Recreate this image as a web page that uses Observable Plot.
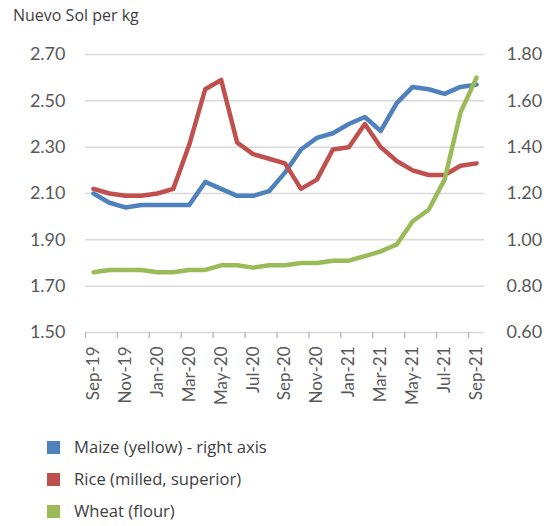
<!DOCTYPE html>
<html>
<head>
<meta charset="utf-8">
<script src="https://cdn.jsdelivr.net/npm/d3@7"></script>
<script src="https://cdn.jsdelivr.net/npm/@observablehq/plot@0.6"></script>
<style>
  html, body { margin: 0; padding: 0; background: #fff; }
  body { width: 552px; height: 526px; overflow: hidden; font-family: "Open Sans", Lato, sans-serif; }
  #title { height: 30px; box-sizing: border-box; padding: 6px 0 0 13px; font-size: 16px; line-height: 19px; color: #404040; }
  #chart svg { display: block; }
  #legend { padding-left: 47px; margin-top: 1px; }
  .row { height: 32px; line-height: 32px; font-size: 16.6px; color: #404040; display: flex; align-items: center; }
  .sw { width: 13px; height: 13px; margin-right: 14px; flex: none; }
</style>
</head>
<body>
<div id="title">Nuevo Sol per kg</div>
<div id="chart"></div>
<div id="legend"></div>
<script>
const months = ["Sep-19","Oct-19","Nov-19","Dec-19","Jan-20","Feb-20","Mar-20","Apr-20","May-20","Jun-20","Jul-20","Aug-20","Sep-20","Oct-20","Nov-20","Dec-20","Jan-21","Feb-21","Mar-21","Apr-21","May-21","Jun-21","Jul-21","Aug-21","Sep-21"];
// Maize (yellow) - right axis
const maize = [1.20,1.16,1.14,1.15,1.15,1.15,1.15,1.25,1.22,1.19,1.19,1.21,1.29,1.39,1.44,1.46,1.50,1.53,1.47,1.59,1.66,1.65,1.63,1.66,1.67];
// Rice (milled, superior) - left axis
const rice = [2.12,2.10,2.09,2.09,2.10,2.12,2.31,2.55,2.59,2.32,2.27,2.25,2.23,2.12,2.16,2.29,2.30,2.40,2.30,2.24,2.20,2.18,2.18,2.22,2.23];
// Wheat (flour) - left axis
const wheat = [1.76,1.77,1.77,1.77,1.76,1.76,1.77,1.77,1.79,1.79,1.78,1.79,1.79,1.80,1.80,1.81,1.81,1.83,1.85,1.88,1.98,2.03,2.16,2.45,2.60];

const leftTicks = [1.50,1.70,1.90,2.10,2.30,2.50,2.70];
const rightTicks = [0.60,0.80,1.00,1.20,1.40,1.60,1.80];
const seriesNames = ["Maize (yellow) - right axis","Rice (milled, superior)","Wheat (flour)"];
const colors = ["#4F81BD","#C0504D","#9BBB59"];

const leftDomain = [leftTicks[0], leftTicks[leftTicks.length-1]];
const offset = leftTicks[0] - rightTicks[0];

const data = months.map((m, i) => ({i, m, maize: maize[i], rice: rice[i], wheat: wheat[i]}));
const edgeTicks = months.map((m, i) => i - 0.5).filter((v, k) => k % 2 === 0);
const labelTicks = months.map((m, i) => i).filter(i => i % 2 === 0);

const chart = Plot.plot({
  width: 552,
  height: 400,
  marginLeft: 85,
  marginRight: 68,
  marginTop: 24,
  marginBottom: 98,
  style: {fontFamily: "Lato, 'Open Sans', sans-serif", fontSize: "18px", color: "#595959", background: "#fff"},
  x: {type: "linear", domain: [-0.5, months.length - 0.5]},
  y: {domain: leftDomain},
  marks: [
    Plot.ruleY(leftTicks, {stroke: "#d9d9d9", strokeWidth: 1.5}),
    Plot.axisY({anchor: "left", ticks: leftTicks, tickFormat: d => d.toFixed(2), tickSize: 0, tickPadding: 20, label: null, fill: "#595959"}),
    Plot.axisY({anchor: "right", ticks: leftTicks, tickFormat: (d, k) => rightTicks[k].toFixed(2), tickSize: 0, tickPadding: 22, label: null, fill: "#595959"}),
    Plot.axisX({ticks: edgeTicks, tickFormat: () => "", tickSize: 6, stroke: "#bfbfbf", strokeWidth: 1.5, label: null}),
    Plot.axisX({ticks: labelTicks, tickFormat: i => months[i], tickSize: 0, tickPadding: 14, tickRotate: -90, label: null, fontSize: 17, fill: "#595959"}),
    Plot.line(data, {x: "i", y: d => d.maize + offset, stroke: colors[0], strokeWidth: 4.5, strokeLinejoin: "round", strokeLinecap: "round"}),
    Plot.line(data, {x: "i", y: "rice", stroke: colors[1], strokeWidth: 4.5, strokeLinejoin: "round", strokeLinecap: "round"}),
    Plot.line(data, {x: "i", y: "wheat", stroke: colors[2], strokeWidth: 4.5, strokeLinejoin: "round", strokeLinecap: "round"})
  ]
});
document.getElementById("chart").appendChild(chart);

const legend = document.getElementById("legend");
seriesNames.forEach((name, k) => {
  const row = document.createElement("div");
  row.className = "row";
  const sw = document.createElement("span");
  sw.className = "sw";
  sw.style.background = colors[k];
  const t = document.createElement("span");
  t.textContent = name;
  row.appendChild(sw);
  row.appendChild(t);
  legend.appendChild(row);
});
</script>
</body>
</html>
